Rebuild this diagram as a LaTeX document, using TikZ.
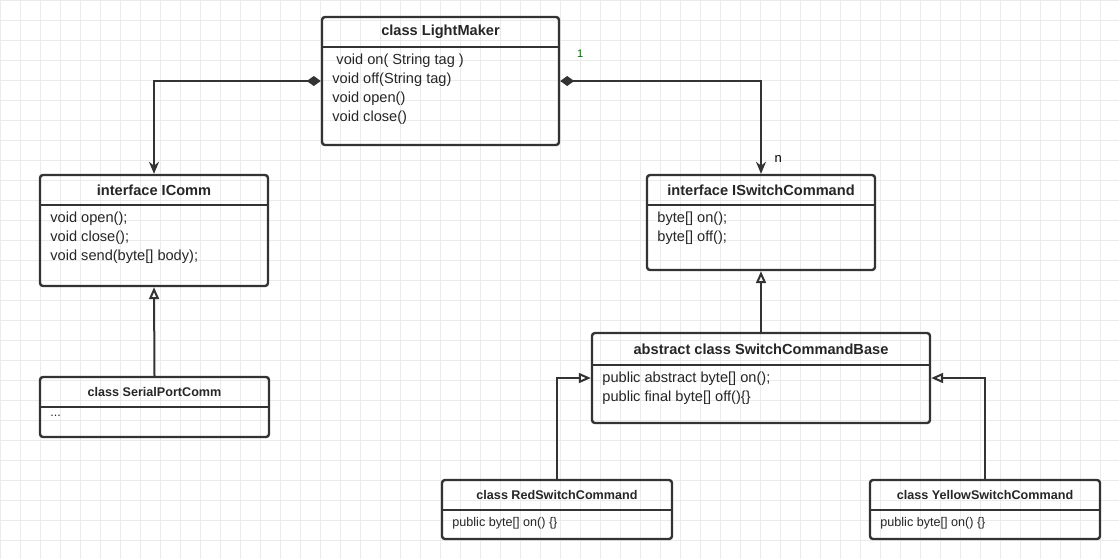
\documentclass[tikz,border=0pt]{standalone}
\usepackage{fontspec}
\setmainfont{Liberation Sans}
\usetikzlibrary{arrows.meta}

\tikzset{
  box/.style={draw=black!80, line width=1.2pt, rounded corners=1.5pt, inner sep=0pt},
  title/.style={text=black!85, inner sep=0pt},
  body/.style={text=black!85, align=left, anchor=north west, inner sep=0pt},
  comp/.style={draw=black!80, line width=1pt, {Diamond[length=7pt,width=5pt]}-{Stealth[length=6pt,width=5pt]}},
  real/.style={draw=black!80, line width=1pt, -{Triangle[open,length=6pt,width=5pt]}},
}

\newcommand\BigSize{\fontsize{7.3}{9.5}\selectfont}
\newcommand\SmallSize{\fontsize{6.3}{8}\selectfont}

% box: name, x1, y1, x2, y2, divider y, title, body, size
\newcommand\UmlBox[9]{%
  \node[box, minimum width={(#4-#2)*0.5pt}, minimum height={(#5-#3)*0.5pt}] (#1) at ({(#2+#4)/2},{(#3+#5)/2}) {};
  \draw[black!80, line width=1.2pt] (#2,#6) -- (#4,#6);
  \node[title, font=\bfseries#9] (#1t) at ({(#2+#4)/2},{(#3+#6)/2}) {#7};
  \node[body, font=#9] (#1b) at (#2+10,#6+7) {#8};
}

\begin{document}
\begin{tikzpicture}[x=0.5pt,y=-0.5pt]
  \useasboundingbox (0,0) rectangle (1119,559);
  \fill[white] (0,0) rectangle (1119,559);
  \foreach \gx in {0,20,...,1100} \draw[black!8, line width=0.4pt] (\gx,0) -- (\gx,559);
  \foreach \gy in {0,20,...,540} \draw[black!8, line width=0.4pt] (0,\gy) -- (1119,\gy);

  \UmlBox{lm}{322}{17}{559}{145}{47}{class LightMaker}{\ void on( String tag )\\void off(String tag)\\void open()\\void close()}{\BigSize}
  \UmlBox{ic}{40}{175}{268}{286}{205}{interface IComm}{void open();\\void close();\\void send(byte[] body);}{\BigSize}
  \UmlBox{sp}{40}{377}{269}{437}{407}{class SerialPortComm}{...}{\SmallSize}
  \UmlBox{isc}{647}{175}{875}{270}{205}{interface ISwitchCommand}{byte[] on();\\byte[] off();}{\BigSize}
  \UmlBox{scb}{592}{333}{930}{423}{365}{abstract class SwitchCommandBase}{public abstract byte[] on();\\public final byte[] off()\{\}}{\BigSize}
  \UmlBox{red}{442}{480}{672}{539}{510}{class RedSwitchCommand}{public byte[] on() \{\}}{\SmallSize}
  \UmlBox{yel}{870}{480}{1100}{539}{510}{class YellowSwitchCommand}{public byte[] on() \{\}}{\SmallSize}

  \draw[comp] (lm.west) -| (ic.north);
  \draw[comp] (lm.east) -| node[pos=0.05, above=8pt, font=\fontsize{5.5}{6}\selectfont, text=green!40!black] (one) {1}
    node[pos=0.92, right=3pt, font=\fontsize{6.5}{7}\selectfont] (nn) {n} (isc.north);
  \draw[real] (sp.north) -- (ic.south);
  \draw[real] (scb.north) -- (isc.south);
  \draw[real] (red.north) |- (scb.west);
  \draw[real] (yel.north) |- (scb.east);
\end{tikzpicture}
\end{document}
